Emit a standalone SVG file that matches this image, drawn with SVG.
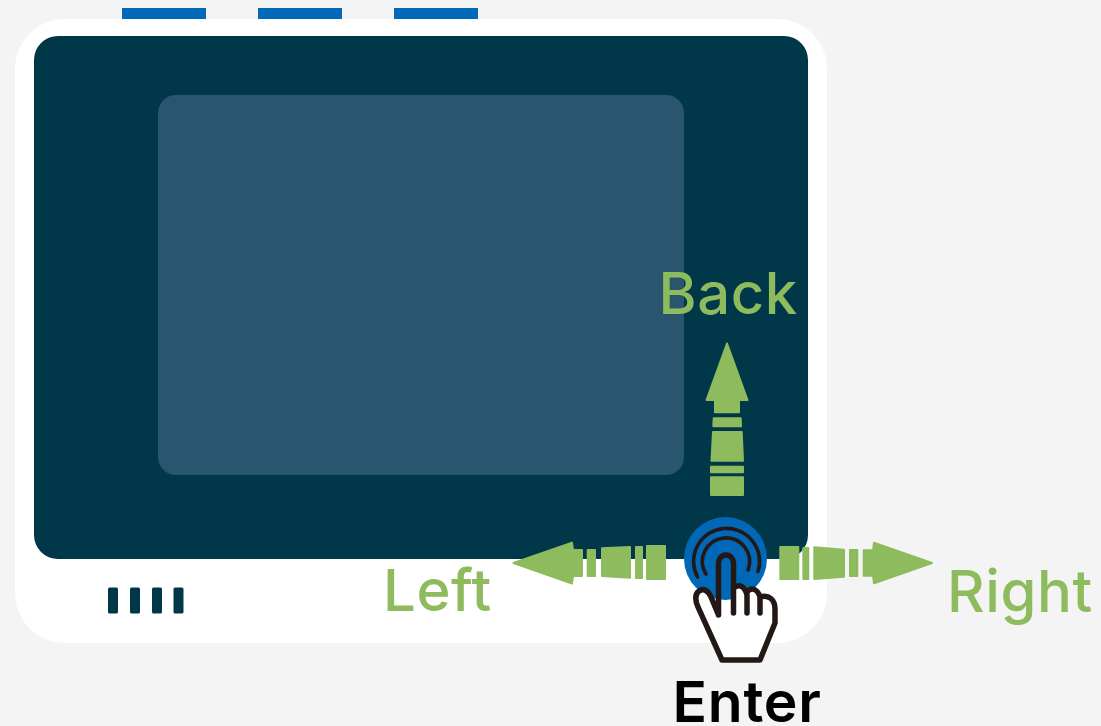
<svg xmlns="http://www.w3.org/2000/svg" width="1101" height="726" viewBox="0 0 1101 726">
<style>
.a{fill:#8dbb5e;stroke:#8dbb5e;stroke-width:2;stroke-linejoin:round}
.t{font-family:"Inter","Liberation Sans",sans-serif;font-size:58px;font-weight:500;letter-spacing:.6px;fill:#8dbb5e}
.bar{fill:#0068b7}.vent{fill:#013849}
.h{fill:none;stroke:#231815;stroke-width:5.500;stroke-linecap:round;stroke-linejoin:round}
.r{fill:none;stroke:#231815;stroke-width:3.600;stroke-linecap:round}
</style>
<rect width="1101" height="726" fill="#f4f4f4"/>
<g id="device">
<rect class="bar" x="122" y="8" width="84" height="11"/>
<rect class="bar" x="258" y="8" width="84" height="11"/>
<rect class="bar" x="394" y="8" width="84" height="11"/>
<rect x="15" y="19" width="812" height="624" rx="50" fill="#fff"/>
<rect x="34" y="36" width="774" height="523" rx="24" fill="#013849"/>
<rect x="158" y="95" width="526" height="380" rx="18" fill="#29566e"/>
<rect class="vent" x="108" y="587.500" width="10" height="26" rx="1.500"/>
<rect class="vent" x="130" y="587.500" width="10" height="26" rx="1.500"/>
<rect class="vent" x="152" y="587.500" width="10" height="26" rx="1.500"/>
<rect class="vent" x="173.500" y="587.500" width="10" height="26" rx="1.500"/>
</g>
<g id="connectors">
<g id="arrow-up">
<polygon class="a" points="727,343.500 747.500,400 739,400 739,412.300 715,412.300 715,400 706.500,400"/>
<polygon class="a" points="713.700,418.300 740.700,418.300 741,426.300 713.300,426.300"/>
<polygon class="a" points="713,432 741.700,432 743,460.700 711.500,460.700"/>
<polygon class="a" points="711,466.700 743,466.700 743,472.300 711,472.300"/>
<polygon class="a" points="711,477.300 743,477.300 743,495 711,495"/>
</g>
<g id="arrow-left">
<polygon class="a" points="513.500,563 572,542.700 573,550 582,550 582,576 573,576 572,583.500"/>
<polygon class="a" points="587.700,550 595,550 595,576 587.700,576"/>
<polygon class="a" points="602,548.300 630,547 630,577.700 602,576"/>
<polygon class="a" points="636,547 642,547 642,578 636,578"/>
<polygon class="a" points="647,546 665,546 665,579 647,579"/>
</g>
<g id="arrow-right">
<polygon class="a" points="780.300,547 798.300,547 798.300,579 780.300,579"/>
<polygon class="a" points="803.300,548 808.300,548 808.300,579 803.300,579"/>
<polygon class="a" points="814.300,547.300 844,549.700 844,576.700 814.300,579"/>
<polygon class="a" points="850,550 857.300,550 857.300,576 850,576"/>
<polygon class="a" points="863.700,550.300 873,550.300 874,542.700 932,563 874,583.300 873,575.700 863.700,575.700"/>
</g>
</g>
<g id="enter-button">
<circle cx="725.500" cy="558.500" r="41.500" fill="#0068b7"/>
<path class="r" d="M697.500 577A33 33 0 1 1 758 571.500"/>
<path class="r" d="M706 574A23.600 23.600 0 1 1 748 570"/>
<path d="M699 590L695 598L700 617L722 660H760L775 623V607L768 595L760 596L753 588L747 595L742 585L733 588V615H718L710 595L702 590Z" fill="#fff"/>
<path class="h" d="M718.500 615V563A7.500 8 0 0 1 733.500 563V613M718.500 615L711 597C708 590 703 588 699 591C695 594 695 600 698 607L722 660H760L775 623V609C775 600 769 594 760 597V613M733.500 588C740 583 745 587 747 595V613M747 592C752 586 758 590 760 597"/>
</g>
<text id="label-back" class="t" x="658.500" y="314">Back</text>
<text id="label-left" class="t" x="383" y="611">Left</text>
<text id="label-right" class="t" x="947" y="611.500">Right</text>
<text id="label-enter" x="672.500" y="722" style="font-family:Inter,'Liberation Sans',sans-serif;font-size:57px;font-weight:600;letter-spacing:.8px;fill:#000">Enter</text>
</svg>
